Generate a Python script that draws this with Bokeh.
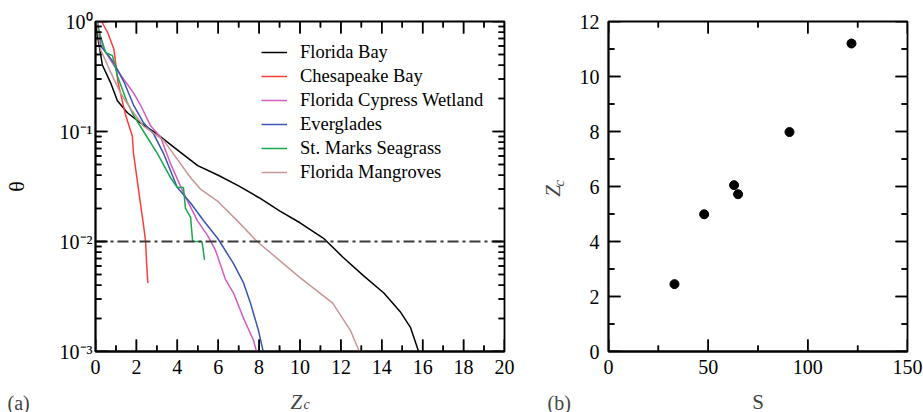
import math
from bokeh.plotting import figure
from bokeh.layouts import row, column
from bokeh.models import (Range1d, FixedTicker, Label, CustomJSTickFormatter,
                          Legend, LegendItem, Arrow, ColumnDataSource)
from bokeh.embed import file_html
from bokeh.resources import INLINE

FONT = "Liberation Serif"

# ---------------- data: panel (a) ----------------
fb_z = [0, 0.1, 0.34, 0.73, 1.07, 1.56, 2.2, 3.0, 4.0, 4.65, 5.0, 6.0, 7.0, 8.0, 9.0, 10.0, 11.15, 12.1, 13.1, 14.1, 14.9, 15.4, 15.8]
fb_t = [1.0, 0.74, 0.40, 0.28, 0.19, 0.148, 0.12, 0.095, 0.068, 0.055, 0.049, 0.040, 0.032, 0.025, 0.019, 0.0148, 0.0107, 0.0072, 0.0049, 0.0034, 0.0023, 0.00166, 0.001]

cb_z = [0.3, 0.6, 0.9, 1.1, 1.47, 1.8, 1.86, 2.05, 2.2, 2.35, 2.45, 2.5, 2.56]
cb_t = [1.0, 0.79, 0.56, 0.28, 0.141, 0.091, 0.063, 0.035, 0.022, 0.014, 0.010, 0.0063, 0.0042]

cw_z = [0.05, 0.4, 0.9, 1.37, 1.86, 2.2, 2.7, 3.18, 3.67, 4.25, 4.98, 5.5, 5.87, 6.36, 6.75, 7.24, 7.73, 7.87]
cw_t = [1.0, 0.56, 0.40, 0.30, 0.224, 0.174, 0.112, 0.089, 0.051, 0.029, 0.0155, 0.0112, 0.0083, 0.0045, 0.0034, 0.0020, 0.00126, 0.001]

ev_z = [0.1, 0.25, 0.6, 0.9, 1.4, 1.86, 2.35, 2.84, 3.33, 4.0, 4.65, 5.28, 5.97, 6.75, 7.24, 7.58, 7.97, 8.2]
ev_t = [1.0, 0.6, 0.5, 0.42, 0.28, 0.174, 0.12, 0.095, 0.063, 0.031, 0.0224, 0.0155, 0.0107, 0.0063, 0.0042, 0.00275, 0.00155, 0.001]

sm_z = [0.05, 0.24, 0.5, 0.83, 1.07, 1.56, 1.86, 2.35, 3.03, 3.67, 4.0, 4.3, 4.4, 4.65, 4.75, 5.2, 5.25, 5.33]
sm_t = [1.0, 0.74, 0.52, 0.49, 0.32, 0.182, 0.141, 0.10, 0.063, 0.038, 0.031, 0.031, 0.020, 0.0166, 0.010, 0.010, 0.0089, 0.0068]

fm_z = [0.05, 0.24, 0.73, 1.22, 1.71, 2.35, 3.33, 3.67, 4.65, 5.13, 6.0, 7.0, 7.9, 10.0, 11.6, 12.47, 12.9]
fm_t = [1.0, 0.56, 0.35, 0.224, 0.162, 0.112, 0.083, 0.068, 0.038, 0.030, 0.023, 0.015, 0.010, 0.0047, 0.00275, 0.00155, 0.001]

series_names = ["Florida Bay", "Chesapeake Bay", "Florida Cypress Wetland",
                "Everglades", "St. Marks Seagrass", "Florida Mangroves"]
series_colors = ["#000000", "#ff3b3b", "#d25cc0", "#3a56b4", "#16a850", "#c99595"]
series_z = [fb_z, cb_z, cw_z, ev_z, sm_z, fm_z]
series_t = [fb_t, cb_t, cw_t, ev_t, sm_t, fm_t]

threshold = 0.01
a_xlim = (0, 20)
a_ylim = (1e-3, 1.0)
a_xticks = list(range(0, 21, 2))
a_xminor = list(range(1, 20, 2))
a_yticks = [1e-3, 1e-2, 1e-1, 1.0]
a_yminor = [m * 10.0 ** e for e in (-3, -2, -1) for m in range(2, 10)]

# ---------------- data: panel (b) ----------------
S_vals = [33.1, 48.0, 63.0, 65.0, 90.8, 121.9]
Zc_vals = [2.45, 4.99, 6.05, 5.72, 7.98, 11.2]
b_xlim = (0, 150)
b_ylim = (0, 12)
b_xticks = [0, 50, 100, 150]
b_xminor = [25, 75, 125]
b_yticks = list(range(0, 13, 2))
b_yminor = list(range(1, 12, 2))

sup_js = """
const e = Math.round(Math.log10(tick));
const m = {'0':'\u2070','1':'\u00b9','2':'\u00b2','3':'\u00b3','-':'\u207b'};
return '10' + String(e).split('').map(c => m[c]).join('');
"""

MAJOR = 12   # tick lengths in screen pixels
MINOR = 6


def style_axis(ax, standoff):
    ax.axis_line_width = 1.8
    ax.axis_line_color = "black"
    ax.major_tick_in = 0
    ax.major_tick_out = 0
    ax.minor_tick_in = 0
    ax.minor_tick_out = 0
    ax.major_label_text_font = FONT
    ax.major_label_text_font_size = "20px"
    ax.major_label_text_color = "black"
    ax.major_label_standoff = standoff


def tick_source(xlim, ylim, xt, xm, yt, ym, fw, fh, ylog=False):
    """Inward frame ticks as segment end points; pixel lengths turned into data offsets."""
    dx = (xlim[1] - xlim[0]) / fw
    if ylog:
        dec = math.log10(ylim[1] / ylim[0]) / fh
        up = lambda y, n: y * 10 ** (n * dec)
    else:
        dy = (ylim[1] - ylim[0]) / fh
        up = lambda y, n: y + n * dy
    d = dict(x0=[], y0=[], x1=[], y1=[])

    def add(a, b, c, e):
        d["x0"].append(a); d["y0"].append(b); d["x1"].append(c); d["y1"].append(e)

    for ticks, ln in ((xt, MAJOR), (xm, MINOR)):
        for t in ticks:
            add(t, ylim[0], t, up(ylim[0], ln))
            add(t, ylim[1], t, up(ylim[1], -ln))
    for ticks, ln in ((yt, MAJOR), (ym, MINOR)):
        for t in ticks:
            add(xlim[0], t, xlim[0] + ln * dx, t)
            add(xlim[1], t, xlim[1] - ln * dx, t)
    return ColumnDataSource(d)


def add_ticks(p, src):
    p.segment("x0", "y0", "x1", "y1", source=src, line_color="black", line_width=1.5)
    p.add_layout(Arrow(start=None, end=None, x_start="x0", y_start="y0",
                       x_end="x1", y_end="y1", source=src,
                       line_color="black", line_width=1.5))


# ---------------- panel (a) ----------------
pa = figure(width=540, height=384, x_range=Range1d(*a_xlim), y_range=Range1d(*a_ylim),
            y_axis_type="log", output_backend="svg", toolbar_location=None,
            min_border_left=95, min_border_right=36, min_border_top=21, min_border_bottom=33)
pa.grid.visible = False
pa.outline_line_color = "black"
pa.outline_line_width = 1.8

renderers = []
for z, t, c in zip(series_z, series_t, series_colors):
    renderers.append(pa.line(z, t, line_color=c, line_width=1.5))

pa.line(list(a_xlim), [threshold, threshold], line_color="#3a3a3a", line_width=1.8,
        line_dash="11 4 3 4")
add_ticks(pa, tick_source(a_xlim, a_ylim, a_xticks, a_xminor, a_yticks, a_yminor, 409, 330, ylog=True))

axb = pa.xaxis[0]
axb.ticker = FixedTicker(ticks=a_xticks)
style_axis(axb, 8)
axl = pa.yaxis[0]
axl.ticker = FixedTicker(ticks=a_yticks)
axl.formatter = CustomJSTickFormatter(code=sup_js)
style_axis(axl, 3)
axl.axis_label = "\u03b8"
axl.axis_label_text_font = FONT
axl.axis_label_text_font_style = "normal"
axl.axis_label_text_font_size = "22px"
axl.axis_label_text_color = "black"
axl.axis_label_standoff = 28

legend = Legend(items=[LegendItem(label=n, renderers=[r]) for n, r in zip(series_names, renderers)],
                location=(166, 167), padding=0, margin=0, spacing=0,
                glyph_width=26, glyph_height=24, label_height=24, label_standoff=13,
                label_text_font=FONT, label_text_font_size="18.5px", label_text_color="black",
                border_line_alpha=0, background_fill_alpha=0)
pa.add_layout(legend)

# ---------------- middle strip (label of panel b's y axis) ----------------
pm = figure(width=30, height=384, x_range=Range1d(540, 570), y_range=Range1d(384, 0),
            output_backend="svg", toolbar_location=None, min_border=0,
            x_axis_location=None, y_axis_location=None)
pm.grid.visible = False
pm.outline_line_color = None
pm.add_layout(Label(x=552, y=197, text="Z", text_font=FONT, text_font_style="italic",
                    text_font_size="21px", angle=math.pi / 2,
                    text_align="center", text_baseline="middle"))
pm.add_layout(Label(x=558, y=188, text="c", text_font=FONT, text_font_style="italic",
                    text_font_size="15px", angle=math.pi / 2,
                    text_align="center", text_baseline="middle"))

# ---------------- panel (b) ----------------
pb = figure(width=353, height=384, x_range=Range1d(*b_xlim), y_range=Range1d(*b_ylim),
            output_backend="svg", toolbar_location=None,
            min_border_left=38, min_border_right=16, min_border_top=20, min_border_bottom=33)
pb.grid.visible = False
pb.outline_line_color = "black"
pb.outline_line_width = 1.8
pb.scatter(S_vals, Zc_vals, size=9, fill_color="black", line_color="black")
add_ticks(pb, tick_source(b_xlim, b_ylim, b_xticks, b_xminor, b_yticks, b_yminor, 299, 331))

bxb = pb.xaxis[0]
bxb.ticker = FixedTicker(ticks=b_xticks)
style_axis(bxb, 8)
byl = pb.yaxis[0]
byl.ticker = FixedTicker(ticks=b_yticks)
style_axis(byl, 9)

# ---------------- bottom strip (panel tags and x-axis titles) ----------------
ps = figure(width=923, height=28, x_range=Range1d(0, 923), y_range=Range1d(412, 384),
            output_backend="svg", toolbar_location=None, min_border=0,
            x_axis_location=None, y_axis_location=None)
ps.grid.visible = False
ps.outline_line_color = None
for txt, x, y, size, style, align in [
    ("(a)", 7, 402, "20px", "normal", "left"),
    ("Z", 290, 401, "21px", "italic", "left"),
    ("c", 303, 404, "14px", "italic", "left"),
    ("(b)", 547, 402, "20px", "normal", "left"),
    ("S", 757.5, 401, "21px", "normal", "center"),
]:
    ps.add_layout(Label(x=x, y=y, text=txt, text_font=FONT, text_font_style=style,
                        text_font_size=size, text_align=align, text_baseline="middle"))

layout = column(row(pa, pm, pb), ps)
open("out.html", "w").write(file_html(layout, INLINE))
